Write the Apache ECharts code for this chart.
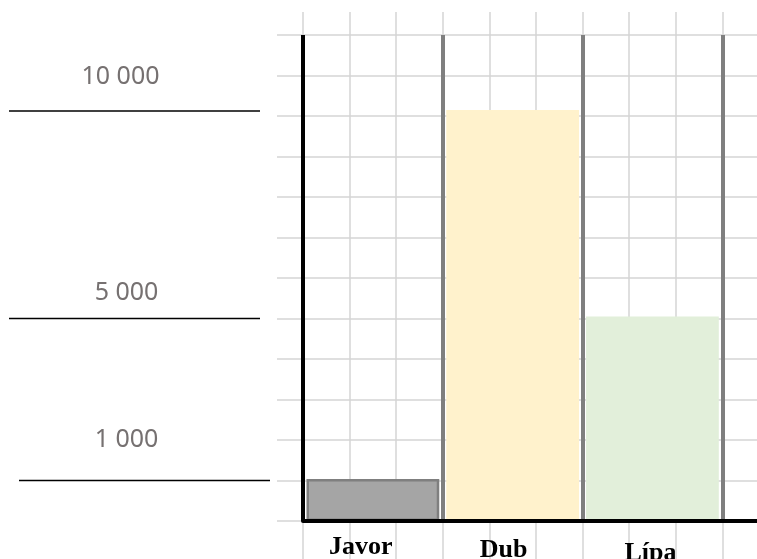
<!DOCTYPE html>
<html>
<head>
<meta charset="utf-8">
<script src="https://cdn.jsdelivr.net/npm/echarts@6/dist/echarts.min.js"></script>
<style>html,body{margin:0;padding:0;background:#fff}#c{width:757px;height:559px}</style>
</head>
<body>
<div id="c"></div>
<script>
// ---- data ----
const categories = ['Javor', 'Dub', 'Lípa'];
const values = [1040, 10150, 5050];
const guideValues = [10000, 5000, 1000];
const guideLabels = ['10 000', '5 000', '1 000'];
const yMin = 0, yMax = 12000, yStep = 1000;
const paperMax = 9.745; // graph-paper columns visible to the right edge

// ---- styles ----
const barColors = ['#a5a5a5', '#fff2cc', '#e2efda'];
const labelPads = [[0, 24, 0, 0], [3, 18, 0, 0], [6, 4, 0, 0]];
const guideLineShift = [[0, -5], [0, 0], [10, 0]];   // [dx, dy] pixel nudges
const guideTextShift = [[-14, -34], [-8, -26], [-18, -41]];
const paperColor = '#d4d4d4';

const chart = echarts.init(document.getElementById('c'), null, {renderer: 'canvas'});

const hidden = {show: false};
const g = (o) => Object.assign({outerBoundsMode: 'none', containLabel: false}, o);
const option = {
  animation: false,
  backgroundColor: '#ffffff',
  grid: [
    g({left: 277, right: 0, top: 35, bottom: 38}),      // 0 horizontal paper lines
    g({left: 303, right: 0, top: 12, bottom: 0}),       // 1 vertical paper lines
    g({left: 303, right: 34.7, top: 35, bottom: 38}),   // 2 bars
    g({left: 303, right: 0, top: 35, bottom: 38}),      // 3 baseline
    g({left: 9, width: 251, top: 35, bottom: 38})       // 4 guide labels
  ],
  xAxis: [
    {gridIndex: 0, type: 'value', min: 0, max: 1, show: false},
    {gridIndex: 1, type: 'value', min: 0, max: paperMax, interval: 1,
      axisLine: hidden, axisTick: hidden, axisLabel: hidden,
      splitLine: {show: true, showMaxLine: false, lineStyle: {color: paperColor, width: 1.5}}},
    {gridIndex: 2, type: 'category', data: categories.map((c, i) => ({value: c, textStyle: {padding: labelPads[i]}})),
      boundaryGap: true,
      axisLine: hidden, axisTick: hidden,
      axisLabel: {show: true, interval: 0, margin: 13, color: '#000', fontFamily: '"Liberation Serif", "Times New Roman", serif',
        fontWeight: 'bold', fontSize: 26},
      splitLine: {show: true, interval: 0, lineStyle: {color: ['#000000', '#7f7f7f', '#7f7f7f', '#7f7f7f'], width: 4}}},
    {gridIndex: 3, type: 'value', min: 0, max: 1, z: 10,
      axisLine: {show: true, lineStyle: {color: '#000', width: 4}}, axisTick: hidden, axisLabel: hidden, splitLine: hidden},
    {gridIndex: 4, type: 'value', min: 0, max: 1, show: false}
  ],
  yAxis: [
    {gridIndex: 0, type: 'value', min: yMin, max: yMax, interval: yStep,
      axisLine: hidden, axisTick: hidden, axisLabel: hidden,
      splitLine: {show: true, lineStyle: {color: paperColor, width: 1.5}}},
    {gridIndex: 1, type: 'value', min: 0, max: 1, show: false},
    {gridIndex: 2, type: 'value', min: yMin, max: yMax, interval: yStep,
      axisLine: hidden, axisTick: hidden, axisLabel: hidden, splitLine: hidden},
    {gridIndex: 3, type: 'value', min: 0, max: 1, show: false},
    {gridIndex: 4, type: 'value', min: yMin, max: yMax, show: false}
  ],
  series: [
    {
      type: 'bar', xAxisIndex: 2, yAxisIndex: 2, barWidth: '95%', z: 2,
      data: values.map((v, i) => ({
        value: v,
        itemStyle: i === 0
          ? {color: barColors[i], borderColor: '#7f7f7f', borderWidth: 2.5}
          : {color: barColors[i]}
      }))
    },
    {
      type: 'custom', xAxisIndex: 4, yAxisIndex: 4,
      data: guideValues.map(v => [0.5, v]),
      renderItem: function (params, api) {
        const i = params.dataIndex;
        const v = api.value(1);
        const p0 = api.coord([0, v]);
        const p1 = api.coord([1, v]);
        const ls = guideLineShift[i], ts = guideTextShift[i];
        const y = p0[1] + ls[1];
        return {
          type: 'group',
          children: [
            {type: 'line', shape: {x1: p0[0] + ls[0], y1: y, x2: p1[0] + ls[0], y2: y},
              style: {stroke: '#000', lineWidth: 1.5}},
            {type: 'text', style: {
              text: guideLabels[i],
              x: (p0[0] + p1[0]) / 2 + ls[0] + ts[0], y: y + ts[1],
              align: 'center', verticalAlign: 'middle',
              fontFamily: '"Noto Sans", "Open Sans", sans-serif', fontSize: 25,
              fill: '#767171'
            }}
          ]
        };
      }
    }
  ]
};
chart.setOption(option);
</script>
</body>
</html>
